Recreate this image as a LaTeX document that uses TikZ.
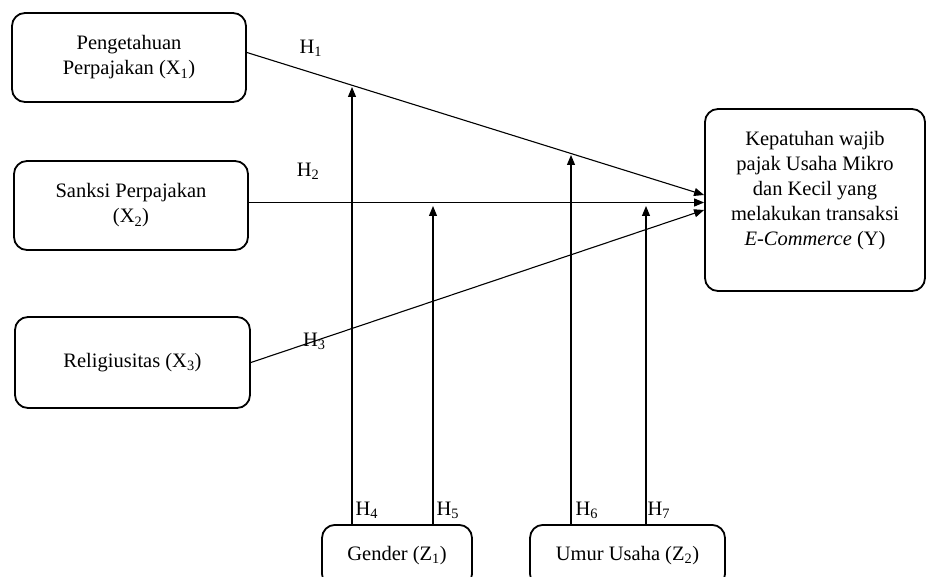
\documentclass[tikz,border=0pt]{standalone}
\usepackage{fontspec}
\setmainfont{Liberation Serif}
\usetikzlibrary{arrows.meta}
\tikzset{
  var/.style={draw, line width=1.8pt, rounded corners=13pt, align=center, inner sep=0pt},
  arr/.style={line width=1.1pt, -{Triangle[length=10pt,width=8pt]}},
  lbl/.style={inner sep=0pt}
}
\begin{document}
\begin{tikzpicture}[x=1pt, y=-1pt, font=\fontsize{20.5}{25}\selectfont]
    \useasboundingbox (0,0) rectangle (927,577);
    \clip (0,0) rectangle (927,577);
    \path (129, 57.5) node[var, minimum width=234, minimum height=89] (X1) {Pengetahuan\\Perpajakan (X\textsubscript{1})}
          (131, 205.5) node[var, minimum width=234, minimum height=89] (X2) {Sanksi Perpajakan\\(X\textsubscript{2})}
          (132.5, 362.5) node[var, minimum width=235, minimum height=91] (X3) {Religiusitas (X\textsubscript{3})}
          (815, 200) node[var, minimum width=220, minimum height=182] (Y) {Kepatuhan wajib\\pajak Usaha Mikro\\dan Kecil yang\\melakukan transaksi\\\textit{E-Commerce} (Y)\\[-2pt]\mbox{}}
          (397, 524) node[var, anchor=north, minimum width=150, minimum height=62] (Z1) {Gender (Z\textsubscript{1})}
          (627.5, 524) node[var, anchor=north, minimum width=195, minimum height=62] (Z2) {Umur Usaha (Z\textsubscript{2})};
    % moderating arrow tips
    \coordinate (t4) at (352, 87);
    \coordinate (t5) at (433, 206);
    \coordinate (t6) at (571, 155);
    \coordinate (t7) at (646, 206);
    \draw[arr] ([yshift=5pt]X1.east) -- ([yshift=5pt]Y.west) node[lbl, pos=0.14, above=15pt] (h1) {H\textsubscript{1}};
    \draw[arr] ([yshift=3pt]X2.east) -- ([yshift=3pt]X2.east -| Y.west) node[lbl, pos=0.13, above=22pt] (h2) {H\textsubscript{2}};
    \draw[arr] (X3.east) -- ([yshift=-10pt]Y.west) node[lbl, pos=0.14, anchor=center] (h3) {H\textsubscript{3}};
    \draw[arr] (t4 |- Z1.north) node[lbl, anchor=south west, xshift=3pt, yshift=5pt] (h4) {H\textsubscript{4}} -- (t4);
    \draw[arr] (t5 |- Z1.north) node[lbl, anchor=south west, xshift=3pt, yshift=5pt] (h5) {H\textsubscript{5}} -- (t5);
    \draw[arr] (t6 |- Z2.north) node[lbl, anchor=south west, xshift=4pt, yshift=5pt] (h6) {H\textsubscript{6}} -- (t6);
    \draw[arr] (t7 |- Z2.north) node[lbl, anchor=south west, xshift=1pt, yshift=5pt] (h7) {H\textsubscript{7}} -- (t7);
\end{tikzpicture}
\end{document}
